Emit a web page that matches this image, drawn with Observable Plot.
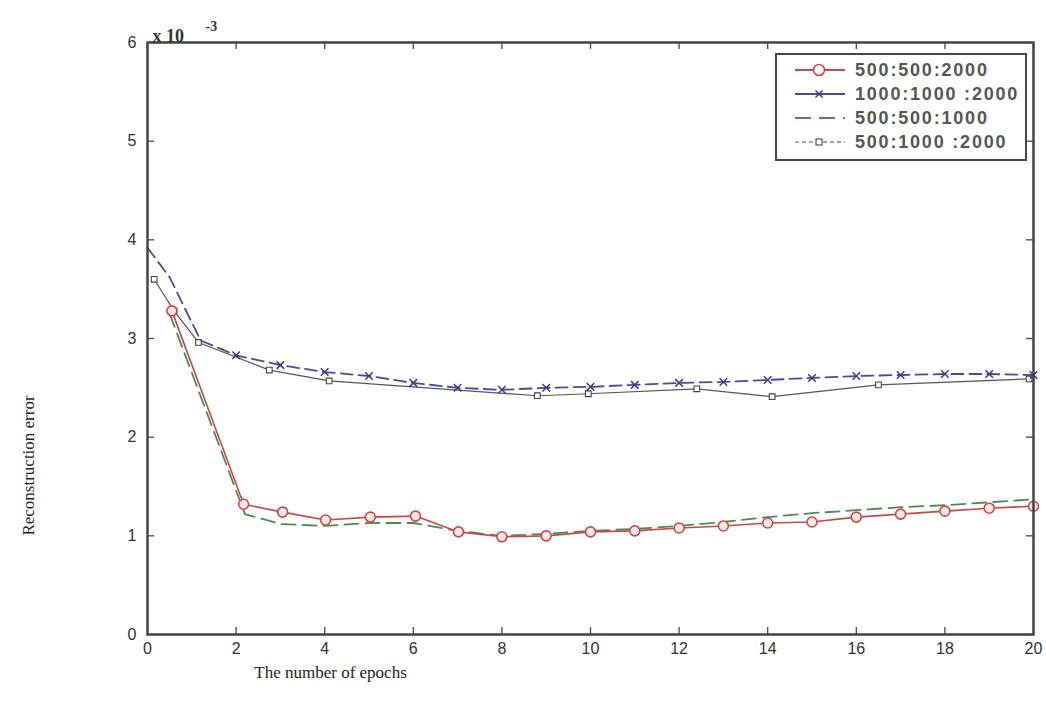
<!DOCTYPE html>
<html>
<head>
<meta charset="utf-8">
<script src="https://cdn.jsdelivr.net/npm/d3@7"></script>
<script src="https://cdn.jsdelivr.net/npm/@observablehq/plot@0.6"></script>
<style>
  html, body { margin: 0; padding: 0; background: #fff; }
  #wrap { position: relative; width: 1046px; height: 710px; }
  #legend {
    position: absolute; left: 775px; top: 53px; width: 248px; height: 104px;
    border: 2px solid #444; background: #fff; box-sizing: content-box;
  }
  .row { position: absolute; left: 0; height: 24px; width: 100%; }
  .row svg { position: absolute; left: 16px; top: 0; }
  .row span {
    position: absolute; left: 78px; top: 1px;
    font: 600 18px "Liberation Sans", Arial, sans-serif; letter-spacing: 1.8px; color: #555; line-height: 22px;
  }
</style>
</head>
<body>
<div id="wrap"></div>
<script>
// ---- data ----
const seriesNames = ["500:500:2000", "1000:1000 :2000", "500:500:1000", "500:1000 :2000"];

// 500:500:2000 (red, solid, circles)
const redEpochs = [0.55, 2.17, 3.05, 4.02, 5.03, 6.05, 7.02, 8.0, 9.0, 10, 11, 12, 13, 14, 15, 16, 17, 18, 19, 20];
const redErr    = [3.28, 1.32, 1.24, 1.16, 1.19, 1.2, 1.04, 0.99, 1.0, 1.04, 1.05, 1.08, 1.1, 1.13, 1.14, 1.19, 1.22, 1.25, 1.28, 1.3];

// 1000:1000:2000 (blue, dashed, x markers)
const blueEpochs = [0, 0.5, 1.2, 2, 3, 4, 5, 6, 7, 8, 9, 10, 11, 12, 13, 14, 15, 16, 17, 18, 19, 20];
const blueErr    = [3.92, 3.62, 2.98, 2.83, 2.73, 2.66, 2.62, 2.55, 2.5, 2.48, 2.5, 2.51, 2.53, 2.55, 2.56, 2.58, 2.6, 2.62, 2.63, 2.64, 2.64, 2.63];

// 500:500:1000 (green, dashed)
const greenEpochs = [0.5, 2.2, 3, 4, 5, 6, 7, 8, 9, 10, 11, 12, 13, 14, 15, 16, 17, 18, 19, 20];
const greenErr    = [3.25, 1.22, 1.12, 1.1, 1.13, 1.13, 1.05, 1.0, 1.02, 1.05, 1.07, 1.1, 1.14, 1.19, 1.23, 1.26, 1.29, 1.31, 1.34, 1.37];

// 500:1000:2000 (dark gray, thin, squares)
const grayEpochs = [0.15, 0.6, 1.15, 2.75, 4.1, 8.8, 9.95, 12.4, 14.1, 16.5, 19.9];
const grayErr    = [3.6, 3.28, 2.96, 2.68, 2.57, 2.42, 2.44, 2.49, 2.41, 2.53, 2.59];

const xTicks = [0, 2, 4, 6, 8, 10, 12, 14, 16, 18, 20];
const yTicks = [0, 1, 2, 3, 4, 5, 6];
const xLabel = "The number of epochs";
const yLabel = "Reconstruction error";
const exponentBase = "x 10";
const exponentPower = "-3";

const toRows = (xs, ys) => xs.map((x, i) => ({x, y: ys[i]}));
const red = toRows(redEpochs, redErr);
const blue = toRows(blueEpochs, blueErr);
const green = toRows(greenEpochs, greenErr);
const gray = toRows(grayEpochs, grayErr);

const tickFont = "'Liberation Sans Narrow', 'Liberation Sans', Arial, sans-serif";
const serif = "'Liberation Serif', 'Times New Roman', serif";
const xMin = 0, xMax = 20, yMin = 0, yMax = 6;
// inward tick length expressed in data units (~7px)
const tickLenY = 0.07, tickLenX = 0.16;

const chart = Plot.plot({
  width: 1046,
  height: 710,
  marginLeft: 147,
  marginRight: 13,
  marginTop: 42,
  marginBottom: 76,
  style: {fontFamily: tickFont, fontSize: "16px", color: "#333", background: "#fff"},
  x: {domain: [xMin, xMax]},
  y: {domain: [yMin, yMax]},
  marks: [
    Plot.axisX({ticks: xTicks, anchor: "bottom", tickSize: 0, tickPadding: 8, tickFormat: d3.format("d"), label: null, fontSize: 16, fill: "#333"}),
    Plot.axisY({ticks: yTicks, anchor: "left", tickSize: 0, tickPadding: 11, tickFormat: d3.format("d"), label: null, fontSize: 16, fill: "#333"}),
    // inward tick marks on all four sides
    Plot.ruleX(xTicks, {x: d => d, y1: yMin, y2: yMin + tickLenY, stroke: "#444", strokeWidth: 1.3}),
    Plot.ruleX(xTicks, {x: d => d, y1: yMax, y2: yMax - tickLenY, stroke: "#444", strokeWidth: 1.3}),
    Plot.ruleY(yTicks, {y: d => d, x1: xMin, x2: xMin + tickLenX, stroke: "#444", strokeWidth: 1.3}),
    Plot.ruleY(yTicks, {y: d => d, x1: xMax, x2: xMax - tickLenX, stroke: "#444", strokeWidth: 1.3}),
    Plot.line(gray, {x: "x", y: "y", stroke: "#555", strokeWidth: 1.2}),
    Plot.dot(gray, {x: "x", y: "y", symbol: "square", r: 3.2, stroke: "#444", fill: "#fff", strokeWidth: 1.1}),
    Plot.line(blue, {x: "x", y: "y", stroke: "#4a4a9a", strokeWidth: 1.8, strokeDasharray: "12,6"}),
    Plot.dot(blue.slice(3), {x: "x", y: "y", symbol: "times", r: 3.5, stroke: "#3a3a8a", strokeWidth: 1.5}),
    Plot.line(green, {x: "x", y: "y", stroke: "#4e8a4e", strokeWidth: 1.8, strokeDasharray: "14,7"}),
    Plot.line(red, {x: "x", y: "y", stroke: "#c84848", strokeWidth: 1.6}),
    Plot.dot(red, {x: "x", y: "y", symbol: "circle", r: 5, stroke: "#c84848", fill: "#fbe9e9", strokeWidth: 1.6}),
    Plot.frame({stroke: "#444", strokeWidth: 2.5}),
    Plot.text([xLabel], {frameAnchor: "bottom-left", dx: 183, dy: 43, textAnchor: "middle", fontFamily: serif, fontSize: 17, fill: "#222"}),
    Plot.text([yLabel], {frameAnchor: "left", dx: -119, dy: 127, rotate: -90, textAnchor: "middle", fontFamily: serif, fontSize: 17, fill: "#222"}),
    Plot.text([exponentBase], {frameAnchor: "top-left", dx: 5, dy: -1, lineAnchor: "bottom", textAnchor: "start", fontFamily: serif, fontWeight: "bold", fontSize: 18, fill: "#333"}),
    Plot.text([exponentPower], {frameAnchor: "top-left", dx: 58, dy: -12, lineAnchor: "bottom", textAnchor: "start", fontFamily: serif, fontWeight: "bold", fontSize: 14, fill: "#333"})
  ]
});

const wrap = document.getElementById("wrap");
wrap.appendChild(chart);

// ---- legend (HTML overlay inside the axes, top-right) ----
const legendStyles = [
  {stroke: "#c84848", dash: null, marker: "circle", mstroke: "#c84848"},
  {stroke: "#4a4a9a", dash: null, marker: "times", mstroke: "#3a3a8a"},
  {stroke: "#4e8a4e", dash: "16,8", marker: null},
  {stroke: "#555", dash: "4,3", marker: "square", mstroke: "#444"}
];
const legend = document.createElement("div");
legend.id = "legend";
seriesNames.forEach((name, i) => {
  const st = legendStyles[i];
  const row = document.createElement("div");
  row.className = "row";
  row.style.top = (3 + i * 24) + "px";
  let marker = "";
  if (st.marker === "circle") marker = `<circle cx="26" cy="12" r="5.5" fill="#fff" stroke="${st.mstroke}" stroke-width="1.6"/>`;
  if (st.marker === "times") marker = `<path d="M22.5 8.5 L29.5 15.5 M29.5 8.5 L22.5 15.5" stroke="${st.mstroke}" stroke-width="1.5"/>`;
  if (st.marker === "square") marker = `<rect x="23" y="9" width="6" height="6" fill="#fff" stroke="${st.mstroke}" stroke-width="1.1"/>`;
  row.innerHTML = `<svg width="54" height="24"><line x1="2" y1="12" x2="52" y2="12" stroke="${st.stroke}" stroke-width="${i === 3 ? 1.2 : 1.8}" ${st.dash ? `stroke-dasharray="${st.dash}"` : ""}/>${marker}</svg><span>${name}</span>`;
  legend.appendChild(row);
});
wrap.appendChild(legend);
</script>
</body>
</html>
